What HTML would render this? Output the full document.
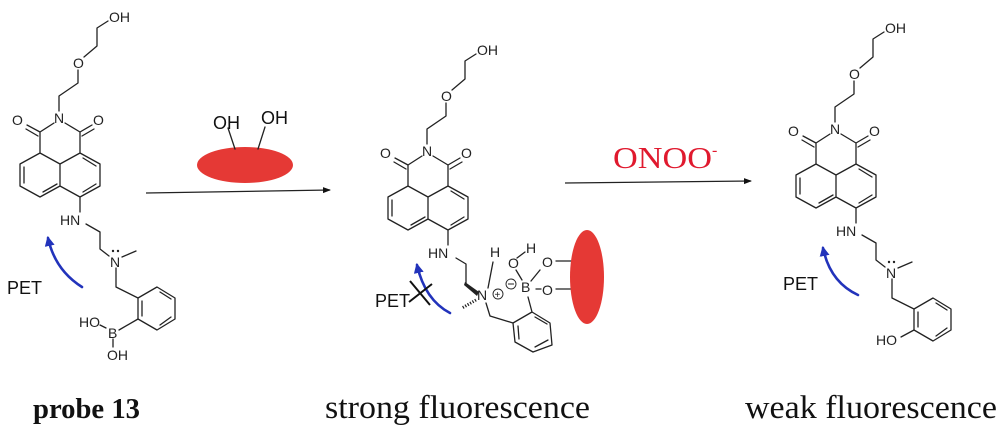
<!DOCTYPE html>
<html><head><meta charset="utf-8"><style>
html,body{margin:0;padding:0;background:#fff;}
svg{display:block}
.l{fill:none;stroke:#222;stroke-width:1.3;stroke-linejoin:round;stroke-linecap:round}
.t{font-family:"Liberation Sans",sans-serif;font-size:14px;fill:#222}
.b{fill:none;stroke:#2233bb;stroke-width:2.6;stroke-linecap:round}
</style></head><body>
<svg width="1000" height="438" viewBox="0 0 1000 438" xmlns="http://www.w3.org/2000/svg">
<defs>
<g id="top">
<path class="l" d="M108,21 L97,28 L97,46 L84,57 M78,70 L78,83 L59,96 L59,111 M54,123 L40,132 L40,153 M40,132 L27,125 M38,136 L26,129 M65,123 L80,132 L80,153 M80,132 L92,125 M82,136 L94,129
M60,164 L40,153 L20,164 L20,186 L40,197 L60,186 Z M60,164 L80,153 L100,164 L100,186 L80,197 L60,186
M24,167 L24,183 M43,192 L57,184 M83,158 L96,166 M96,184 L83,192 M80,197 L80,212"/>
</g>
<g id="chain">
<path class="l" d="M86,224 L100,232 L100,249 L109,256 M122,257 L136,251 M116,268 L116,287 L138,298
M138,298 L157,287 L175,298 L175,319 L157,330 L138,319 Z M160,292 L171,299 M171,317 L160,325 M142,316 L142,301"/>
<circle cx="113" cy="251" r="1.2" fill="#222"/><circle cx="118" cy="251" r="1.2" fill="#222"/>
</g>
<marker id="ah" markerWidth="8" markerHeight="8" refX="7" refY="4" orient="auto" markerUnits="userSpaceOnUse"><path d="M0,1 L8,4 L0,7 Z" fill="#111"/></marker>
<marker id="bh" markerWidth="10" markerHeight="10" refX="8" refY="5" orient="auto" markerUnits="userSpaceOnUse"><path d="M0,0 L10,5 L0,10 Z" fill="#2233bb"/></marker>
</defs>

<!-- Structure 1 -->
<use href="#top"/>
<use href="#chain"/>
<text class="t" x="109" y="22">OH</text>
<text class="t" x="73" y="68">O</text>
<text class="t" x="54" y="123">N</text>
<text class="t" x="12" y="125">O</text>
<text class="t" x="93" y="125">O</text>
<text class="t" x="60" y="225">HN</text>
<text class="t" x="110" y="267">N</text>
<path class="l" d="M138,319 L119,330 M106,328 L100,325 M113,339 L113,347"/>
<text class="t" x="108" y="338">B</text>
<text class="t" x="79" y="327">HO</text>
<text class="t" x="107" y="360">OH</text>
<text x="7" y="294" style="font-family:'Liberation Sans',sans-serif;font-size:18px;fill:#111">PET</text>
<path class="b" d="M82,287 Q55,270 48,238" marker-end="url(#bh)"/>

<!-- Reagent 1 -->
<ellipse cx="245" cy="165" rx="48" ry="18" fill="#e53935"/>
<path class="l" d="M228,128 L235,149 M265,127 L258,149"/>
<text x="213" y="129" style="font-family:'Liberation Sans',sans-serif;font-size:18px;fill:#111">OH</text>
<text x="261" y="124" style="font-family:'Liberation Sans',sans-serif;font-size:18px;fill:#111">OH</text>
<line x1="146" y1="193" x2="330" y2="190" stroke="#222" stroke-width="1.2" marker-end="url(#ah)"/>

<!-- Structure 2 -->
<use href="#top" x="368" y="33"/>
<text class="t" x="477" y="55">OH</text>
<text class="t" x="441" y="101">O</text>
<text class="t" x="422" y="156">N</text>
<text class="t" x="380" y="158">O</text>
<text class="t" x="461" y="158">O</text>
<text class="t" x="428" y="258">HN</text>
<path class="l" d="M456,258 L466,264 L466,283 M488,288 L493,262 M486,303 L490,316 L513,323
M513,323 L532,312 L550,323 L552,345 L533,352 L515,342 Z M535,317 L547,324 M548,340 L535,347 M519,339 L518,326
M532,312 L528,297 M517,258 L525,252 M516,270 L522,280 M531,281 L540,270 M536,289 L541,289 M556,261 L574,261 M556,289 L574,289"/>
<path d="M465,282 L479,292 L477,296 L464,285 Z" fill="#222"/>
<line x1="476" y1="300" x2="462" y2="308" stroke="#222" stroke-width="3" stroke-dasharray="1.2 1.6"/>
<text class="t" x="477" y="300">N</text>
<circle cx="498" cy="294" r="5" fill="none" stroke="#222" stroke-width="0.9"/><text x="494.5" y="298" style="font-family:'Liberation Sans',sans-serif;font-size:10px;fill:#222">+</text>
<circle cx="511" cy="284" r="5" fill="none" stroke="#222" stroke-width="0.9"/><line x1="508" y1="284" x2="514" y2="284" stroke="#222" stroke-width="1"/>
<text class="t" x="521" y="292">B</text>
<text class="t" x="490" y="257">H</text>
<text class="t" x="508" y="268">O</text>
<text class="t" x="526" y="253">H</text>
<text class="t" x="542" y="267">O</text>
<text class="t" x="542" y="295">O</text>
<ellipse cx="587" cy="277" rx="17" ry="47" fill="#e53935"/>
<text x="375" y="307" style="font-family:'Liberation Sans',sans-serif;font-size:18px;fill:#111">PET</text>
<path class="b" d="M450,313 Q425,300 417,265" marker-end="url(#bh)"/>
<path d="M410,281 L430,305 M409,302 L432,284" stroke="#111" stroke-width="2" fill="none"/>

<!-- Reagent 2 -->
<text x="613" y="168" textLength="99" lengthAdjust="spacingAndGlyphs" style="font-family:'Liberation Serif',serif;font-size:31px;fill:#e0192e">ONOO</text>
<text x="712" y="155" style="font-family:'Liberation Serif',serif;font-size:16px;fill:#e0192e">-</text>
<line x1="565" y1="183" x2="751" y2="181" stroke="#222" stroke-width="1.2" marker-end="url(#ah)"/>

<!-- Structure 3 -->
<use href="#top" x="776" y="11"/>
<use href="#chain" x="776" y="11"/>
<text class="t" x="885" y="33">OH</text>
<text class="t" x="849" y="79">O</text>
<text class="t" x="830" y="134">N</text>
<text class="t" x="788" y="136">O</text>
<text class="t" x="869" y="136">O</text>
<text class="t" x="836" y="236">HN</text>
<text class="t" x="886" y="278">N</text>
<path class="l" d="M914,330 L901,337"/>
<text class="t" x="876" y="345">HO</text>
<text x="783" y="290" style="font-family:'Liberation Sans',sans-serif;font-size:18px;fill:#111">PET</text>
<path class="b" d="M858,295 Q830,282 823,248" marker-end="url(#bh)"/>

<!-- captions -->
<text x="33" y="418" textLength="107" lengthAdjust="spacingAndGlyphs" style="font-family:'Liberation Serif',serif;font-size:29px;font-weight:bold;fill:#111">probe 13</text>
<text x="325" y="418" textLength="265" lengthAdjust="spacingAndGlyphs" style="font-family:'Liberation Serif',serif;font-size:33px;fill:#111">strong fluorescence</text>
<text x="745" y="418" textLength="252" lengthAdjust="spacingAndGlyphs" style="font-family:'Liberation Serif',serif;font-size:33px;fill:#111">weak fluorescence</text>
</svg>
</body></html>
